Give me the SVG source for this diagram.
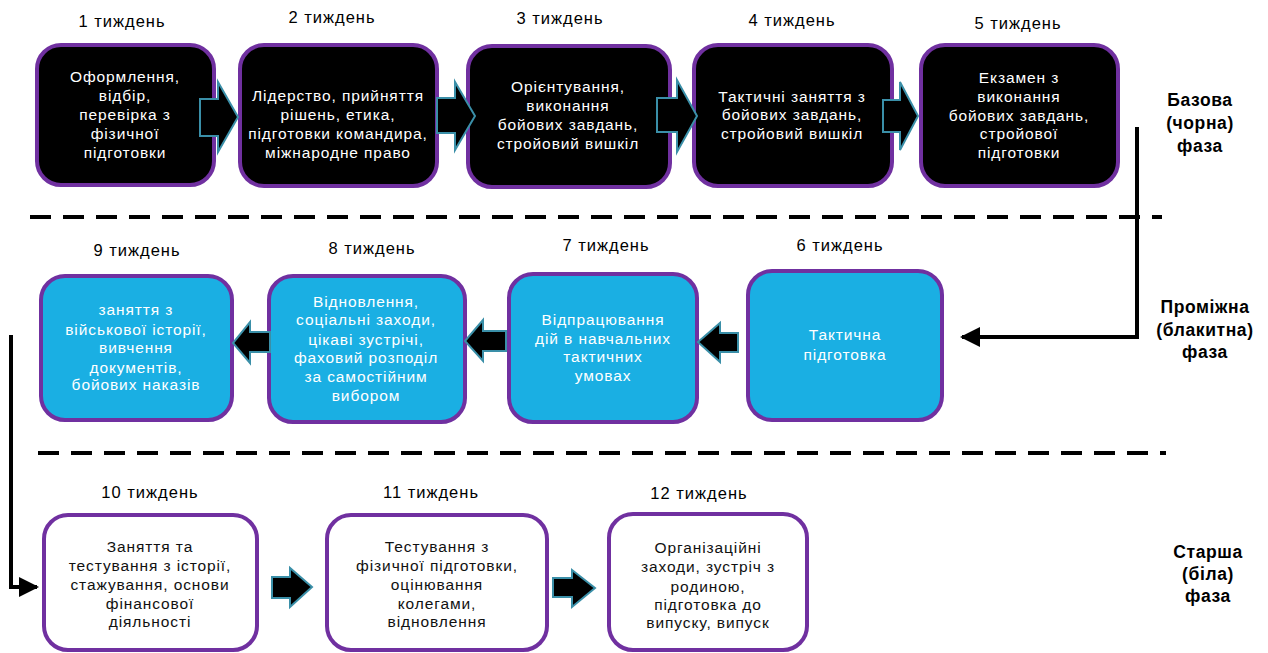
<svg xmlns="http://www.w3.org/2000/svg" width="1268" height="653" viewBox="0 0 1268 653">
<defs>
<style>
.box{stroke:#7030A0;stroke-width:4}
.blk{fill:#000}
.blu{fill:#1AAFE3}
.wht{fill:#fff}
.t{font-family:"Liberation Sans",Arial,sans-serif;font-size:15.5px;letter-spacing:0.9px;text-anchor:middle}
.tw{fill:#fff}
.td{fill:#111}
.wk{font-family:"Liberation Sans",Arial,sans-serif;font-size:16.5px;letter-spacing:1px;text-anchor:middle;fill:#000}
.ph{font-family:"Liberation Sans",Arial,sans-serif;font-size:17.5px;font-weight:bold;letter-spacing:0.6px;text-anchor:middle;fill:#000}
.dash{stroke:#000;stroke-width:4;stroke-dasharray:21 12;fill:none}
.con{stroke:#000;stroke-width:4;fill:none}
.barrow{fill:#000;stroke:#3A8FA8;stroke-width:2;stroke-linejoin:miter}
</style>
<marker id="ah" viewBox="0 0 10 10" refX="9" refY="5" markerWidth="5" markerHeight="5" orient="auto" markerUnits="strokeWidth">
<path d="M0,0 L10,5 L0,10 z" fill="#000"/>
</marker>
</defs>
<rect width="1268" height="653" fill="#fff"/>

<g id="separators">
<line class="dash" x1="30" y1="217" x2="1162" y2="217"/>
<line class="dash" x1="38" y1="453" x2="1166" y2="453"/>
</g>

<g id="connectors">
<path class="con" d="M1137,127 V337 H962" marker-end="url(#ah)"/>
<path class="con" d="M11,335 V587 H37" marker-end="url(#ah)"/>
</g>

<g id="week-labels">
<text class="wk" x="122" y="27">1 тиждень</text>
<text class="wk" x="332" y="23">2 тиждень</text>
<text class="wk" x="560" y="24">3 тиждень</text>
<text class="wk" x="792" y="26">4 тиждень</text>
<text class="wk" x="1018" y="29">5 тиждень</text>
<text class="wk" x="137" y="256">9 тиждень</text>
<text class="wk" x="372" y="254">8 тиждень</text>
<text class="wk" x="606" y="251">7 тиждень</text>
<text class="wk" x="840" y="251">6 тиждень</text>
<text class="wk" x="150" y="498">10 тиждень</text>
<text class="wk" x="431" y="498">11 тиждень</text>
<text class="wk" x="699" y="499">12 тиждень</text>
</g>

<g id="phase-labels">
<text class="ph" x="1200" y="106">Базова</text>
<text class="ph" x="1200" y="129">(чорна)</text>
<text class="ph" x="1200" y="152">фаза</text>
<text class="ph" x="1205" y="313">Проміжна</text>
<text class="ph" x="1205" y="336">(блакитна)</text>
<text class="ph" x="1205" y="358">фаза</text>
<text class="ph" x="1208" y="558">Старша</text>
<text class="ph" x="1208" y="580">(біла)</text>
<text class="ph" x="1208" y="602">фаза</text>
</g>

<g id="week1">
<rect class="box blk" x="37" y="45" width="177" height="140" rx="24"/>
<text class="t tw" x="125"><tspan x="125" y="82">Оформлення,</tspan><tspan x="125" y="101">відбір,</tspan><tspan x="125" y="120">перевірка з</tspan><tspan x="125" y="139">фізичної</tspan><tspan x="125" y="158">підготовки</tspan></text>
</g>
<g id="week2">
<rect class="box blk" x="240" y="45" width="197" height="141" rx="24"/>
<text class="t tw" x="338"><tspan x="338" y="101">Лідерство, прийняття</tspan><tspan x="338" y="120">рішень, етика,</tspan><tspan x="338" y="139">підготовки командира,</tspan><tspan x="338" y="158">міжнародне право</tspan></text>
</g>
<g id="week3">
<rect class="box blk" x="468" y="46" width="202" height="141" rx="24"/>
<text class="t tw" x="568"><tspan x="568" y="92">Орієнтування,</tspan><tspan x="568" y="111">виконання</tspan><tspan x="568" y="130">бойових завдань,</tspan><tspan x="568" y="149">стройовий вишкіл</tspan></text>
</g>
<g id="week4">
<rect class="box blk" x="694" y="45" width="198" height="141" rx="24"/>
<text class="t tw" x="792"><tspan x="792" y="102">Тактичні заняття з</tspan><tspan x="792" y="120">бойових завдань,</tspan><tspan x="792" y="139">стройовий вишкіл</tspan></text>
</g>
<g id="week5">
<rect class="box blk" x="921" y="45" width="197" height="141" rx="24"/>
<text class="t tw" x="1019"><tspan x="1019" y="83">Екзамен з</tspan><tspan x="1019" y="102">виконання</tspan><tspan x="1019" y="121">бойових завдань,</tspan><tspan x="1019" y="139">стройової</tspan><tspan x="1019" y="158">підготовки</tspan></text>
</g>

<g id="week6">
<rect class="box blu" x="748" y="271" width="194" height="149" rx="24"/>
<text class="t tw" x="845"><tspan x="845" y="340">Тактична</tspan><tspan x="845" y="360">підготовка</tspan></text>
</g>
<g id="week7">
<rect class="box blu" x="509" y="274" width="188" height="148" rx="24"/>
<text class="t tw" x="603"><tspan x="603" y="325">Відпрацювання</tspan><tspan x="603" y="344">дій в навчальних</tspan><tspan x="603" y="362">тактичних</tspan><tspan x="603" y="381">умовах</tspan></text>
</g>
<g id="week8">
<rect class="box blu" x="269" y="276" width="196" height="146" rx="24"/>
<text class="t tw" x="366"><tspan x="366" y="307">Відновлення,</tspan><tspan x="366" y="325">соціальні заходи,</tspan><tspan x="366" y="345">цікаві зустрічі,</tspan><tspan x="366" y="363">фаховий розподіл</tspan><tspan x="366" y="382">за самостійним</tspan><tspan x="366" y="401">вибором</tspan></text>
</g>
<g id="week9">
<rect class="box blu" x="41" y="276" width="191" height="144" rx="24"/>
<text class="t tw" x="136"><tspan x="136" y="315">заняття з</tspan><tspan x="136" y="335">військової історії,</tspan><tspan x="136" y="353">вивчення</tspan><tspan x="136" y="373">документів,</tspan><tspan x="136" y="390">бойових наказів</tspan></text>
</g>

<g id="week10">
<rect class="box wht" x="44" y="515" width="213" height="135" rx="24"/>
<text class="t td" x="150"><tspan x="150" y="552">Заняття та</tspan><tspan x="150" y="571">тестування з історії,</tspan><tspan x="150" y="590">стажування, основи</tspan><tspan x="150" y="609">фінансової</tspan><tspan x="150" y="627">діяльності</tspan></text>
</g>
<g id="week11">
<rect class="box wht" x="327" y="515" width="220" height="135" rx="24"/>
<text class="t td" x="437"><tspan x="437" y="552">Тестування з</tspan><tspan x="437" y="571">фізичної підготовки,</tspan><tspan x="437" y="590">оцінювання</tspan><tspan x="437" y="609">колегами,</tspan><tspan x="437" y="627">відновлення</tspan></text>
</g>
<g id="week12">
<rect class="box wht" x="609" y="514" width="198" height="136" rx="24"/>
<text class="t td" x="708"><tspan x="708" y="553">Організаційні</tspan><tspan x="708" y="572">заходи, зустріч з</tspan><tspan x="708" y="592">родиною,</tspan><tspan x="708" y="610">підготовка до</tspan><tspan x="708" y="628">випуску, випуск</tspan></text>
</g>

<g id="block-arrows">
<polygon class="barrow" points="200,99 218,99 218,82 238,117 218,152 218,136 200,136"/>
<polygon class="barrow" points="437,98 455,98 455,82 475,116 455,150 455,133 437,133"/>
<polygon class="barrow" points="657,98 677,98 677,80 697,116 677,152 677,132 657,132"/>
<polygon class="barrow" points="883,100 900,100 900,82 918,116 900,150 900,132 883,132"/>
<polygon class="barrow" points="270,332 250,332 250,322 233,343 250,363 250,352 270,352"/>
<polygon class="barrow" points="506,331 483,331 483,320 465,341 483,361 483,351 506,351"/>
<polygon class="barrow" points="738,333 720,333 720,323 698,342 720,362 720,352 738,352"/>
<polygon class="barrow" points="272,577 290,577 290,568 312,587 290,607 290,598 272,598"/>
<polygon class="barrow" points="553,578 572,578 572,570 595,588 572,607 572,597 553,597"/>
</g>
</svg>
